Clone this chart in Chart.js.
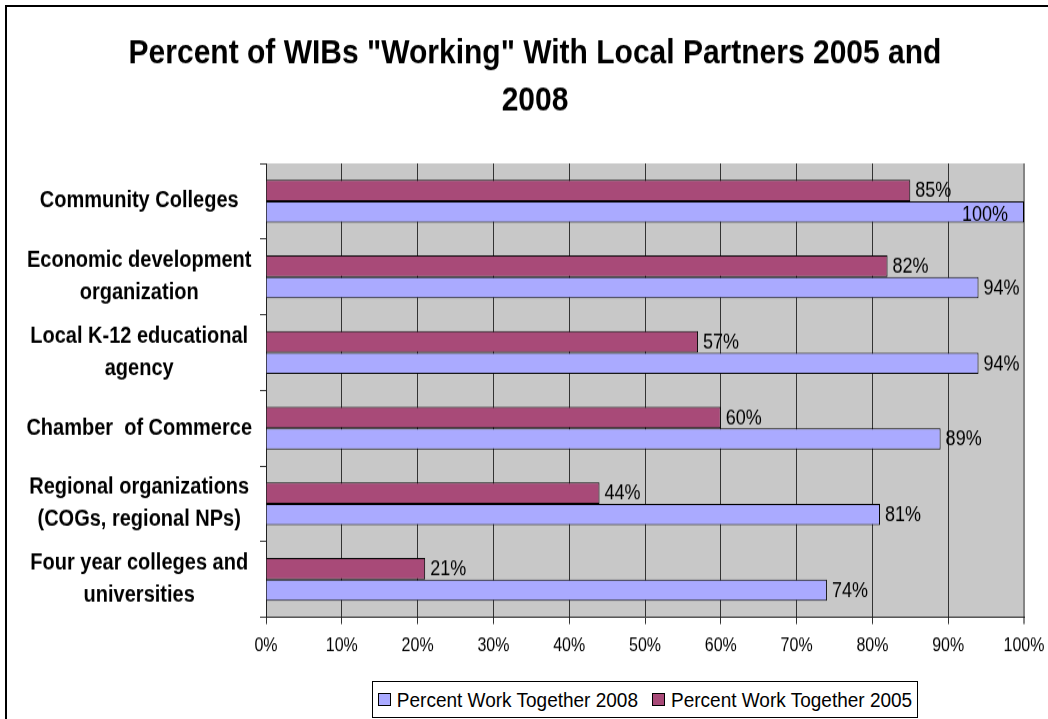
<!DOCTYPE html>
<html>
<head>
<meta charset="utf-8">
<script src="https://cdn.jsdelivr.net/npm/chart.js@4/dist/chart.umd.min.js"></script>
<style>
  html, body { margin: 0; padding: 0; background: #fff; overflow: hidden; }
  #frame { position: absolute; left: 5px; top: 5px; width: 1100px; height: 800px; border: 2px solid #000; box-sizing: border-box; }
  /* the chart is drawn on a 1048x625 canvas and stretched to the full 719px height */
  #chart { position: absolute; left: 0; top: 0; transform-origin: 0 0; transform: scaleY(1.1504); }
  #legend { position: absolute; left: 372px; top: 681px; width: 546px; height: 37px; box-sizing: border-box;
            border: 1px solid #000; background: #fff; display: flex; align-items: center; justify-content: center; gap: 14px; }
  .item { display: flex; align-items: center; white-space: nowrap; color: #000; }
  .item span.txt { display: inline-block; transform: scaleY(1.1); }
  .swatch { width: 13px; height: 13px; border: 1px solid #000; margin-right: 6px; box-sizing: border-box; }
</style>
</head>
<body>
<div id="frame"></div>
<canvas id="chart" width="1048" height="625"></canvas>
<div id="legend"></div>
<script>
// Partner types (two-line labels are split into arrays)
const categories = [
  ['Community Colleges'],
  ['Economic development', 'organization'],
  ['Local K-12 educational', 'agency'],
  ['Chamber  of Commerce'],
  ['Regional organizations', '(COGs, regional NPs)'],
  ['Four year colleges and', 'universities']
];
const seriesNames = ['Percent Work Together 2005', 'Percent Work Together 2008'];
const values2005 = [85, 82, 57, 60, 44, 21];
const values2008 = [100, 94, 94, 89, 81, 74];
const xTicks = [0, 10, 20, 30, 40, 50, 60, 70, 80, 90, 100];
const titleLines = ['Percent of WIBs "Working" With Local Partners 2005 and', '2008'];

const FAMILY = '"Liberation Sans", Arial, sans-serif';
const SZ = { title: 30, cat: 20, tick: 16, value: 18, legend: 19 };
const COLORS = ['#A84A78', '#AAAAFF'];

const plotBackground = {
  id: 'plotBackground',
  beforeDraw(chart) {
    const { ctx, chartArea: a } = chart;
    ctx.save();
    ctx.fillStyle = '#C8C8C8';
    ctx.fillRect(a.left, a.top, a.right - a.left, a.bottom - a.top);
    ctx.restore();
  }
};

// percentage printed at the end of each bar; a label that would leave the plot goes inside it
const valueLabels = {
  id: 'valueLabels',
  afterDatasetsDraw(chart) {
    const { ctx, chartArea: a } = chart;
    ctx.save();
    ctx.font = SZ.value + 'px ' + FAMILY;
    ctx.fillStyle = '#000';
    ctx.textBaseline = 'middle';
    chart.data.datasets.forEach((ds, di) => {
      chart.getDatasetMeta(di).data.forEach((bar, i) => {
        const txt = ds.data[i] + '%';
        const w = ctx.measureText(txt).width;
        if (bar.x + 5 + w > a.right) {
          ctx.textAlign = 'right';
          ctx.fillText(txt, a.right - 16, bar.y + 3);
        } else {
          ctx.textAlign = 'left';
          ctx.fillText(txt, bar.x + 5, bar.y + 1);
        }
      });
    });
    ctx.restore();
  }
};

const chart = new Chart(document.getElementById('chart'), {
  type: 'bar',
  data: {
    labels: categories,
    datasets: [
      { label: seriesNames[0], data: values2005, backgroundColor: COLORS[0], borderColor: '#000', borderWidth: 1,
        barPercentage: 1, categoryPercentage: 0.57 },
      { label: seriesNames[1], data: values2008, backgroundColor: COLORS[1], borderColor: '#000', borderWidth: 1,
        barPercentage: 1, categoryPercentage: 0.57 }
    ]
  },
  options: {
    indexAxis: 'y',
    responsive: false,
    animation: false,
    devicePixelRatio: 1,
    layout: { padding: { left: 22, right: 0, top: 26, bottom: 0 } },
    plugins: {
      legend: { display: false },
      tooltip: { enabled: false },
      title: {
        display: true,
        text: titleLines,
        color: '#000',
        font: { family: FAMILY, size: SZ.title, weight: 'bold', lineHeight: 41 / SZ.title },
        padding: { top: 0, bottom: 34 }
      }
    },
    scales: {
      x: {
        min: 0, max: 100,
        afterBuildTicks(scale) { scale.ticks = xTicks.map(v => ({ value: v })); },
        afterFit(scale) { scale.height = 88.5; scale.paddingLeft = 0; scale.paddingRight = 0; },
        ticks: {
          color: '#000',
          padding: 9,
          font: { family: FAMILY, size: SZ.tick },
          callback: v => v + '%'
        },
        grid: {
          color: ctx => (ctx.tick && ctx.tick.value === 100) ? '#858585' : '#333',
          lineWidth: ctx => (ctx.tick && ctx.tick.value === 100) ? 2 : 1,
          tickLength: 6
        },
        border: { color: '#222', width: 1 }
      },
      y: {
        afterFit(scale) { scale.width = 244; scale.paddingTop = 0; scale.paddingBottom = 0; },
        ticks: {
          color: '#000',
          padding: 8,
          crossAlign: 'center',
          font: { family: FAMILY, size: SZ.cat, weight: 'bold', lineHeight: 27.8 / SZ.cat }
        },
        grid: { drawOnChartArea: false, tickLength: 6, color: '#333' },
        border: { color: '#222', width: 1 }
      },
      // empty strip on the right of the plot
      gutter: {
        type: 'linear',
        position: 'right',
        axis: 'y',
        afterFit(scale) { scale.width = 24; scale.paddingTop = 0; scale.paddingBottom = 0; },
        ticks: { display: false },
        grid: { display: false },
        border: { display: false }
      }
    }
  },
  plugins: [plotBackground, valueLabels]
});

// Legend lists the 2008 series first
const legend = document.getElementById('legend');
legend.style.font = SZ.legend + 'px ' + FAMILY;
chart.data.datasets.slice().reverse().forEach(ds => {
  const item = document.createElement('div');
  item.className = 'item';
  const sw = document.createElement('span');
  sw.className = 'swatch';
  sw.style.background = ds.backgroundColor;
  const t = document.createElement('span');
  t.className = 'txt';
  t.textContent = ds.label;
  item.appendChild(sw);
  item.appendChild(t);
  legend.appendChild(item);
});
</script>
</body>
</html>
